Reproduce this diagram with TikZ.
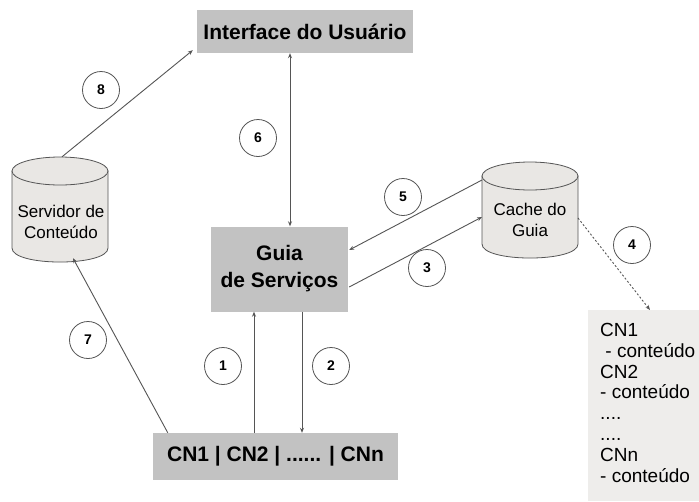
\documentclass[tikz,border=0pt]{standalone}
\usepackage{fontspec}
\setmainfont{Liberation Sans}
\usetikzlibrary{arrows.meta,calc}
\definecolor{boxgray}{RGB}{194,194,194}
\definecolor{cylgray}{RGB}{233,231,228}
\definecolor{listgray}{RGB}{238,237,235}
\definecolor{linegray}{RGB}{85,85,85}
\tikzset{
  graybox/.style={fill=boxgray, draw=none, inner sep=0pt, font=\fontsize{21}{27}\selectfont\bfseries, align=center},
  cyltext/.style={draw=none, inner sep=0pt, font=\fontsize{17}{21}\selectfont, align=center},
  numcirc/.style={circle, draw=linegray, line width=0.8pt, fill=white, minimum size=37pt, inner sep=0pt, font=\fontsize{14}{14}\selectfont\bfseries},
  conn/.style={draw=linegray, line width=0.9pt, -{Stealth[length=5pt,width=4pt]}},
  cylshape/.style={fill=cylgray, draw=linegray, line width=0.8pt}
}
\begin{document}
\begin{tikzpicture}[x=1pt,y=-1pt]
\useasboundingbox[fill=white] (0,0) rectangle (699,501);
% boxes
\node[graybox, minimum width=216pt, minimum height=43pt] (iface) at (305,31.5) {Interface do Usuário};
\node[graybox, minimum width=137pt, minimum height=85pt] (gs) at (279.5,269) {Guia\\de Serviços};
\node[graybox, minimum width=245pt, minimum height=47pt] (cn) at (275.5,456.5) {CN1 | CN2 | ...... | CNn};
% list box
\fill[listgray] (588,310) rectangle (700,501);
\node[anchor=north west, inner sep=0pt, align=left, font=\fontsize{19}{20.8}\selectfont] (lst) at (600,323) {CN1\\\ - conteúdo\\CN2\\- conteúdo\\....\\....\\CNn\\- conteúdo};
\coordinate (lsttop) at (650,310);
% cylinders
\path[cylshape] (12,171) -- (12,248) .. controls (12,266.7) and (108,266.7) .. (108,248) -- (108,171) -- cycle;
\draw[cylshape] (60,171) ellipse [x radius=48, y radius=14];
\node[cyltext, minimum width=96pt, minimum height=105pt] (srv) at (60,209.5) {};
\node[cyltext] (srvt) at (61,222) {Servidor de\\Conteúdo};
\path[cylshape] (482,176) -- (482,244) .. controls (482,262.7) and (578,262.7) .. (578,244) -- (578,176) -- cycle;
\draw[cylshape] (530,176) ellipse [x radius=48, y radius=14];
\node[cyltext, minimum width=96pt, minimum height=96pt] (cache) at (530,210) {};
\node[cyltext] (cachet) at (530,220) {Cache do\\Guia};
% connectors
\draw[conn] ([xshift=-21.5pt]cn.north) -- ([xshift=-25.5pt]gs.south);
\draw[conn] ([xshift=22.5pt]gs.south) -- ([xshift=26.5pt]cn.north);
\draw[conn, {Stealth[length=5pt,width=4pt]}-{Stealth[length=5pt,width=4pt]}] ([xshift=-15pt]iface.south) -- ([xshift=10.5pt]gs.north);
\draw[conn] ([shift={(-48pt,30pt)}]cache.center) -- ([shift={(1pt,19pt)}]gs.east);
\draw[conn] ([shift={(1pt,-18pt)}]gs.east) -- ([shift={(-48pt,-7pt)}]cache.center);
\draw[conn, dashed, dash pattern=on 2pt off 2pt] ([shift={(48pt,-8pt)}]cache.center) -- (lsttop);
\draw[conn] ([xshift=15pt]cn.north west) -- ([xshift=13pt,yshift=4pt]srv.south);
\draw[conn] ([xshift=2pt]srv.north) -- ([shift={(-4pt,3pt)}]iface.south west);
% number circles
\node[numcirc] (n8) at (101,90) {8};
\node[numcirc] (n6) at (258,138) {6};
\node[numcirc] (n5) at (403,197) {5};
\node[numcirc] (n3) at (427,268) {3};
\node[numcirc] (n4) at (632,245) {4};
\node[numcirc] (n7) at (88,340) {7};
\node[numcirc] (n1) at (223,366) {1};
\node[numcirc] (n2) at (331,366) {2};
\end{tikzpicture}
\end{document}
